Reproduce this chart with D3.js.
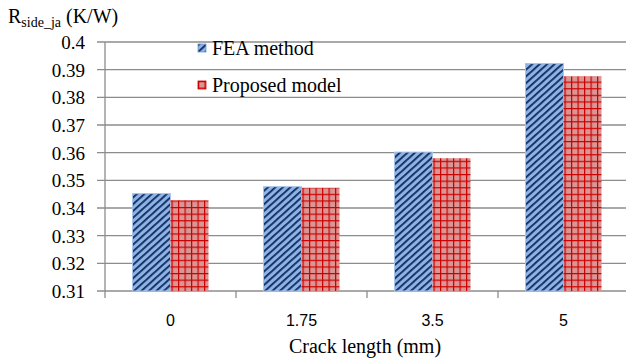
<!DOCTYPE html>
<html>
<head>
<meta charset="utf-8">
<script src="https://cdn.jsdelivr.net/npm/d3@7"></script>
</head>
<body style="margin:0">
<script>
// data
var crackLengths = ["0", "1.75", "3.5", "5"];
var feaValues = [0.3452, 0.3477, 0.3602, 0.3922];
var proposedValues = [0.3428, 0.3473, 0.3580, 0.3876];
var seriesNames = ["FEA method", "Proposed model"];
var yTicks = [0.31, 0.32, 0.33, 0.34, 0.35, 0.36, 0.37, 0.38, 0.39, 0.4];

var w = 626, h = 360;
var margin = {top: 42, right: -3, bottom: 69, left: 105};
var width = w - margin.left - margin.right;
var height = h - margin.top - margin.bottom;

var serif = "Liberation Serif";
var sans = "Liberation Sans";

var svg = d3.select("body").append("svg")
    .attr("width", w)
    .attr("height", h);

// fill patterns
var defs = svg.append("defs");
var stripes = defs.append("pattern")
    .attr("id", "stripes")
    .attr("patternUnits", "userSpaceOnUse")
    .attr("width", 5).attr("height", 5)
    .attr("patternTransform", "rotate(-42)");
stripes.append("rect").attr("width", 5).attr("height", 5).attr("fill", "#8db3e2");
stripes.append("rect").attr("width", 5).attr("height", 1.8).attr("fill", "#0e2a63");

var grid = defs.append("pattern")
    .attr("id", "grid")
    .attr("patternUnits", "userSpaceOnUse")
    .attr("width", 6.5).attr("height", 6.6);
grid.append("rect").attr("width", 6.5).attr("height", 6.6).attr("fill", "#d99694");
grid.append("rect").attr("x", 0).attr("width", 1.2).attr("height", 6.6).attr("fill", "#cc0000");
grid.append("rect").attr("y", 0).attr("width", 6.5).attr("height", 1.2).attr("fill", "#cc0000");

var g = svg.append("g").attr("transform", "translate(" + margin.left + "," + margin.top + ")");

var x0 = d3.scaleBand().domain(crackLengths).range([0, width]).paddingInner(0.42).paddingOuter(0.21);
var x1 = d3.scaleBand().domain(seriesNames).range([0, x0.bandwidth()]);
var y = d3.scaleLinear().domain([0.31, 0.4]).range([height, 0]);

// gridlines
g.selectAll(".grid").data(yTicks).enter().append("line")
    .attr("x1", -8).attr("x2", width)
    .attr("y1", function(d) { return y(d); })
    .attr("y2", function(d) { return y(d); })
    .attr("stroke", "#8c8c8c").attr("stroke-width", 1.3);

// y axis line
g.append("line").attr("x1", 0).attr("x2", 0).attr("y1", 0).attr("y2", height)
    .attr("stroke", "#8c8c8c").attr("stroke-width", 1.3);

// y tick labels
g.selectAll(".ylab").data(yTicks).enter().append("text")
    .attr("x", -20)
    .attr("y", function(d) { return y(d) + 7; })
    .attr("text-anchor", "end")
    .attr("font-family", serif).attr("font-size", 19)
    .text(function(d) { return d3.format(".2~f")(d); });

// x axis category separators
var step = x0.step();
g.selectAll(".xtick").data(d3.range(crackLengths.length + 1)).enter().append("line")
    .attr("x1", function(i) { return i * step; })
    .attr("x2", function(i) { return i * step; })
    .attr("y1", height).attr("y2", height + 7)
    .attr("stroke", "#8c8c8c").attr("stroke-width", 1.3);

// bars
var groups = g.selectAll(".group").data(crackLengths).enter().append("g")
    .attr("transform", function(d) { return "translate(" + x0(d) + ",0)"; });

groups.append("rect")
    .attr("x", x1(seriesNames[0]))
    .attr("width", x1.bandwidth())
    .attr("y", function(d, i) { return y(feaValues[i]); })
    .attr("height", function(d, i) { return height - y(feaValues[i]); })
    .attr("fill", "url(#stripes)")
    .attr("stroke", "#a9c4ea").attr("stroke-width", 1);

groups.append("rect")
    .attr("x", x1(seriesNames[1]))
    .attr("width", x1.bandwidth())
    .attr("y", function(d, i) { return y(proposedValues[i]); })
    .attr("height", function(d, i) { return height - y(proposedValues[i]); })
    .attr("fill", "url(#grid)");

// x tick labels
g.selectAll(".xlab").data(crackLengths).enter().append("text")
    .attr("x", function(d) { return x0(d) + x0.bandwidth() / 2; })
    .attr("y", height + 35)
    .attr("text-anchor", "middle")
    .attr("font-family", sans).attr("font-size", 16)
    .text(function(d) { return d; });

// x axis title
svg.append("text")
    .attr("x", 365).attr("y", 353)
    .attr("text-anchor", "middle")
    .attr("font-family", serif).attr("font-size", 20)
    .text("Crack length (mm)");

// y axis title
var yt = svg.append("text")
    .attr("x", 8).attr("y", 23)
    .attr("font-family", serif).attr("font-size", 20);
yt.append("tspan").text("R");
yt.append("tspan").attr("dy", 4).attr("font-size", 14).text("side_ja");
yt.append("tspan").attr("dy", -4).text(" (K/W)");

// legend
var legend = svg.append("g").attr("transform", "translate(198,44)");
var swatchFill = ["url(#stripes)", "url(#grid)"];
seriesNames.forEach(function(name, i) {
    var row = legend.append("g").attr("transform", "translate(0," + (i * 37) + ")");
    row.append("rect").attr("width", 8).attr("height", 8)
        .attr("fill", swatchFill[i])
        .attr("stroke", i ? "#cc0000" : "#6f9ad6").attr("stroke-width", 0.8);
    row.append("text").attr("x", 14).attr("y", 11)
        .attr("font-family", serif).attr("font-size", 20)
        .text(name);
});
</script>
</body>
</html>
